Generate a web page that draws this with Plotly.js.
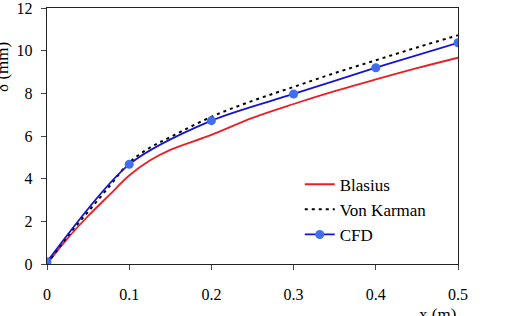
<!DOCTYPE html>
<html>
<head>
<meta charset="utf-8">
<script src="https://cdn.plot.ly/plotly-3.0.1.min.js"></script>
<style>html,body{margin:0;padding:0;background:#fff;}#chart{width:510px;height:316px;}</style>
</head>
<body>
<div id="chart"></div>
<script>
const blasiusX = [0, 0.025, 0.05, 0.075, 0.1, 0.125, 0.15, 0.2, 0.25, 0.3, 0.35, 0.4, 0.45, 0.5];
const blasiusY = [0, 1.2, 2.25, 3.2, 4.15, 4.85, 5.35, 6.05, 6.85, 7.5, 8.1, 8.65, 9.18, 9.67];
const karmanX = [0, 0.025, 0.05, 0.075, 0.1, 0.125, 0.15, 0.2, 0.25, 0.3, 0.35, 0.4, 0.45, 0.5];
const karmanY = [0, 1.3, 2.45, 3.6, 4.75, 5.45, 5.95, 6.9, 7.65, 8.3, 8.95, 9.55, 10.15, 10.72];
const cfdX = [0, 0.1, 0.2, 0.3, 0.4, 0.5];
const cfdY = [0.1, 4.67, 6.72, 7.97, 9.2, 10.37];
const xTicks = [0, 0.1, 0.2, 0.3, 0.4, 0.5];
const xTickText = ["0", "0.1", "0.2", "0.3", "0.4", "0.5"];
const yTicks = [0, 2, 4, 6, 8, 10, 12];

const serif = "Liberation Serif";

const traces = [
  {x: blasiusX, y: blasiusY, name: "Blasius", mode: "lines",
   line: {color: "rgb(235,30,35)", width: 1.8, shape: "spline", smoothing: 1}},
  {x: karmanX, y: karmanY, name: "Von Karman", mode: "lines",
   line: {color: "#000", width: 2, dash: "3px,4px", shape: "spline", smoothing: 1}},
  {x: cfdX, y: cfdY, name: "CFD", mode: "lines+markers",
   line: {color: "rgb(20,20,210)", width: 1.8, shape: "spline", smoothing: 0.8},
   marker: {color: "rgb(65,110,240)", size: 9}}
];

const layout = {
  width: 510, height: 316,
  margin: {l: 47, r: 52, t: 8, b: 52},
  paper_bgcolor: "#fff", plot_bgcolor: "#fff",
  font: {family: serif, size: 16, color: "#000"},
  showlegend: true,
  legend: {x: 0.615, y: 0.38, xanchor: "left", yanchor: "top",
           font: {family: serif, size: 17, color: "#000"},
           bgcolor: "rgba(0,0,0,0)", tracegroupgap: 0},
  xaxis: {range: [0, 0.5], tickvals: xTicks, ticktext: xTickText,
          showgrid: false, zeroline: false, showline: true, linecolor: "#222", linewidth: 1.2,
          mirror: true, ticks: "outside", ticklen: 5, tickcolor: "#444",
          ticklabelstandoff: 11, ticklabeloverflow: "allow", tickfont: {family: serif, size: 16}},
  yaxis: {range: [0, 12], tickvals: yTicks,
          showgrid: false, zeroline: false, showline: true, linecolor: "#222", linewidth: 1.2,
          mirror: true, ticks: "outside", ticklen: 5, tickcolor: "#444",
          ticklabelstandoff: 5, ticklabeloverflow: "allow", tickfont: {family: serif, size: 16}},
  annotations: [
    {text: "x (m)", xref: "paper", yref: "paper", x: 0.951, y: 0, yshift: -39,
     xanchor: "center", yanchor: "top", showarrow: false, font: {family: serif, size: 17}},
    {text: "δ (mm)", xref: "paper", yref: "paper", x: 0, y: 0.77, xshift: -44,
     xanchor: "center", yanchor: "middle", textangle: -90, showarrow: false, font: {family: serif, size: 17}}
  ]
};

Plotly.newPlot("chart", traces, layout, {displayModeBar: false, staticPlot: true});
</script>
</body>
</html>
